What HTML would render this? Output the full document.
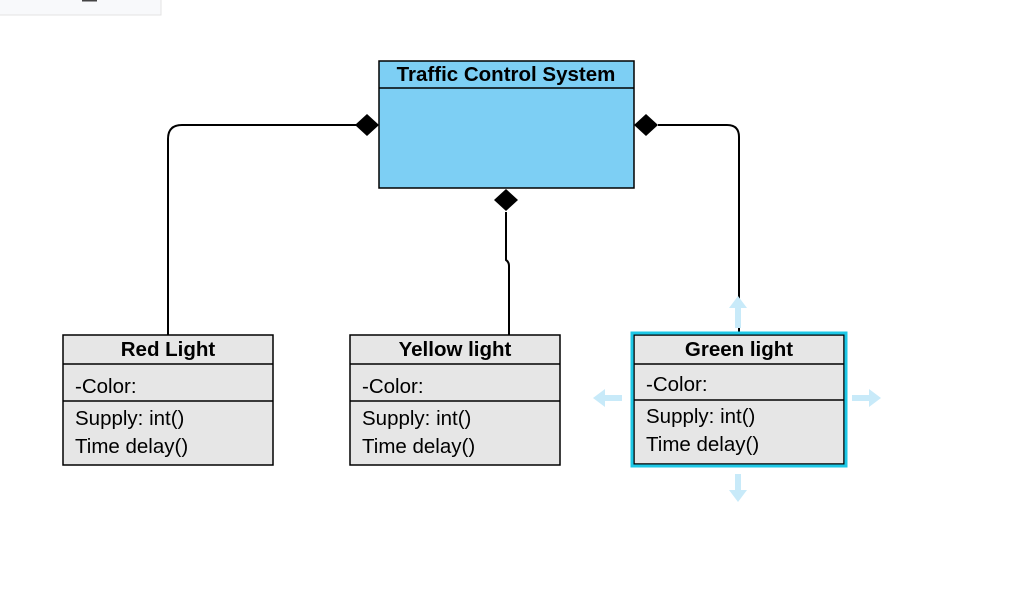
<!DOCTYPE html>
<html><head><style>
body{margin:0;background:#fff;width:1032px;height:585px;overflow:hidden}
text{font-family:"Liberation Sans",Arial,sans-serif;fill:#000}
</style></head><body>
<svg width="1032" height="585" xmlns="http://www.w3.org/2000/svg">
<rect x="-1" y="-1" width="162" height="16" fill="#f8f9fb" stroke="#e3e3e3"/>
<rect x="82" y="0" width="15" height="1.5" fill="#444"/>
<g fill="none" stroke="#000" stroke-width="2">
<path d="M356 125 H182 Q168 125 168 139 V335"/>
<path d="M658 125 H727 Q739 125 739 137 V335"/>
<path d="M506 212 V260 Q509 262 509 266 V335"/>
</g>
<g fill="#000">
<polygon points="355,125 367,114 379,125 367,136"/>
<polygon points="634,125 646,114 658,125 646,136"/>
<polygon points="494,200 506,189 518,200 506,211"/>
</g>
<rect x="379" y="61" width="255" height="127" fill="#7dcff4" stroke="#000" stroke-width="1.5"/>
<line x1="379" y1="88" x2="634" y2="88" stroke="#000" stroke-width="1.5"/>
<text x="506" y="81" font-size="20.5" font-weight="bold" text-anchor="middle">Traffic Control System</text>
<g stroke="#000" stroke-width="1.5" fill="#e6e6e6">
<rect x="63" y="335" width="210" height="130"/><line x1="63" y1="364" x2="273" y2="364"/><line x1="63" y1="401" x2="273" y2="401"/>
<rect x="350" y="335" width="210" height="130"/><line x1="350" y1="364" x2="560" y2="364"/><line x1="350" y1="401" x2="560" y2="401"/>
<rect x="634" y="335" width="210" height="129"/><line x1="634" y1="364" x2="844" y2="364"/><line x1="634" y1="400" x2="844" y2="400"/>
</g>
<rect x="632" y="333" width="214" height="133" fill="none" stroke="#1ec8e6" stroke-width="3"/>
<g font-size="20.5">
<text x="168" y="356" font-weight="bold" text-anchor="middle">Red Light</text>
<text x="75" y="393">-Color:</text><text x="75" y="425">Supply: int()</text><text x="75" y="453">Time delay()</text>
<text x="455" y="356" font-weight="bold" text-anchor="middle">Yellow light</text>
<text x="362" y="393">-Color:</text><text x="362" y="425">Supply: int()</text><text x="362" y="453">Time delay()</text>
<text x="739" y="356" font-weight="bold" text-anchor="middle">Green light</text>
<text x="646" y="391">-Color:</text><text x="646" y="423">Supply: int()</text><text x="646" y="451">Time delay()</text>
</g>
<g fill="#c8eaf9">
<polygon points="738,296 747,308 741,308 741,328 735,328 735,308 729,308"/>
<polygon points="738,502 747,490 741,490 741,474 735,474 735,490 729,490"/>
<polygon points="593,398 605,389 605,395 622,395 622,401 605,401 605,407"/>
<polygon points="881,398 869,389 869,395 852,395 852,401 869,401 869,407"/>
</g>
</svg>
</body></html>
